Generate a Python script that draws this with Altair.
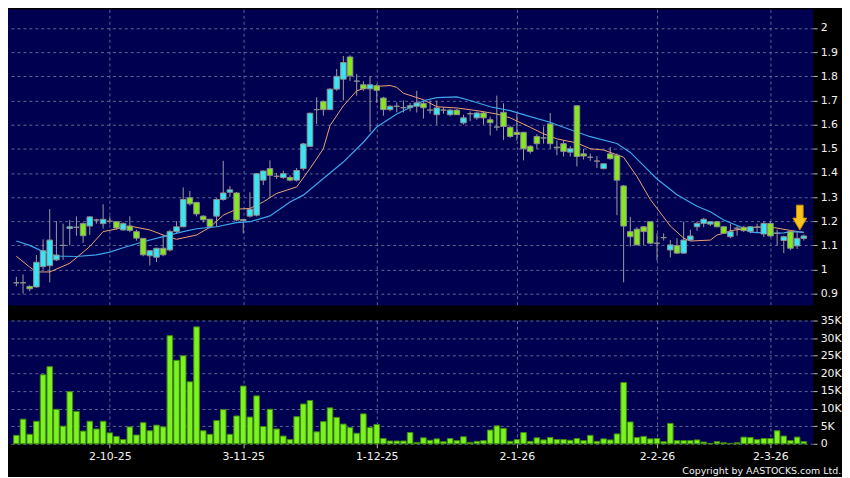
import altair as alt
import pandas as pd

# ---- daily candles (index 0 = first trading day shown) ----
opens = [0.945,0.945,0.93,0.928,1.012,1.016,1.04,1.1,1.17,1.175,
         1.19,1.18,1.205,1.19,1.2,1.198,1.164,1.18,1.157,1.129,
         1.057,1.051,1.088,1.081,1.157,1.177,1.297,1.278,1.221,1.208,
         1.221,1.29,1.32,1.317,1.207,1.221,1.225,1.37,1.418,1.386,
         1.381,1.381,1.37,1.418,1.51,1.662,1.696,1.662,1.747,1.788,
         1.88,1.78,1.765,1.748,1.761,1.71,1.662,1.676,1.67,1.67,
         1.676,1.688,1.66,1.641,1.66,1.641,1.66,1.607,1.645,1.628,
         1.648,1.62,1.59,1.651,1.589,1.568,1.568,1.51,1.551,1.545,
         1.603,1.507,1.521,1.486,1.678,1.479,1.465,1.449,1.418,1.479,
         1.473,1.346,1.157,1.167,1.177,1.198,1.109,1.132,1.081,1.099,
         1.068,1.122,1.177,1.191,1.188,1.198,1.177,1.136,1.171,1.175,
         1.157,1.175,1.147,1.191,1.15,1.12,1.157,1.098,1.129]
highs = [0.97,0.98,0.935,1.06,1.125,1.25,1.2,1.19,1.205,1.22,
         1.195,1.22,1.21,1.27,1.22,1.2,1.195,1.22,1.165,1.13,
         1.08,1.09,1.143,1.165,1.2,1.34,1.325,1.28,1.225,1.21,
         1.295,1.45,1.345,1.32,1.21,1.32,1.4,1.41,1.452,1.4,
         1.41,1.39,1.42,1.525,1.65,1.713,1.7,1.75,1.83,1.884,
         1.887,1.81,1.78,1.8,1.768,1.715,1.68,1.692,1.7,1.69,
         1.74,1.697,1.7,1.699,1.672,1.665,1.665,1.641,1.655,1.655,
         1.655,1.633,1.72,1.688,1.595,1.644,1.57,1.515,1.56,1.592,
         1.648,1.534,1.534,1.51,1.68,1.5,1.48,1.47,1.438,1.507,
         1.48,1.35,1.218,1.175,1.18,1.2,1.15,1.15,1.122,1.13,
         1.198,1.165,1.198,1.214,1.2,1.2,1.18,1.19,1.18,1.18,
         1.18,1.19,1.2,1.2,1.165,1.14,1.16,1.16,1.145]
lows = [0.93,0.9,0.91,0.925,1.0,0.947,1.035,1.04,1.1,1.14,
        1.11,1.143,1.19,1.17,1.19,1.165,1.16,1.155,1.12,1.055,
        1.017,1.031,1.055,1.075,1.15,1.175,1.265,1.22,1.195,1.17,
        1.177,1.285,1.3,1.2,1.15,1.215,1.22,1.35,1.3,1.375,
        1.375,1.365,1.365,1.41,1.508,1.603,1.637,1.66,1.74,1.7,
        1.781,1.72,1.74,1.57,1.69,1.637,1.655,1.651,1.65,1.655,
        1.65,1.625,1.645,1.6,1.645,1.635,1.641,1.6,1.615,1.62,
        1.6,1.555,1.575,1.537,1.545,1.534,1.452,1.48,1.5,1.521,
        1.5,1.473,1.468,1.468,1.427,1.455,1.45,1.42,1.415,1.455,
        1.225,0.947,1.095,1.1,1.1,1.105,1.037,1.12,1.05,1.065,
        1.065,1.12,1.16,1.175,1.18,1.175,1.148,1.13,1.14,1.155,
        1.15,1.15,1.135,1.135,1.1,1.068,1.08,1.085,1.12]
closes = [0.945,0.945,0.92,1.03,1.078,1.122,1.06,1.1,1.177,1.175,
          1.14,1.218,1.205,1.208,1.2,1.172,1.19,1.162,1.13,1.061,
          1.078,1.088,1.061,1.157,1.177,1.29,1.272,1.23,1.206,1.178,
          1.29,1.317,1.33,1.205,1.203,1.25,1.397,1.408,1.39,1.386,
          1.397,1.37,1.41,1.52,1.647,1.662,1.662,1.747,1.8,1.857,
          1.802,1.78,1.748,1.765,1.742,1.662,1.676,1.676,1.67,1.678,
          1.69,1.67,1.66,1.669,1.66,1.66,1.641,1.628,1.645,1.648,
          1.628,1.608,1.59,1.592,1.551,1.559,1.5,1.489,1.521,1.545,
          1.521,1.504,1.489,1.5,1.468,1.47,1.465,1.449,1.438,1.459,
          1.37,1.18,1.136,1.102,1.157,1.109,1.109,1.132,1.102,1.068,
          1.122,1.139,1.191,1.208,1.198,1.177,1.15,1.157,1.171,1.161,
          1.177,1.175,1.191,1.139,1.15,1.136,1.088,1.129,1.139]
volumes = [2400,7000,2700,6400,19600,21900,9800,5000,14800,9200,
           3600,6400,4200,6400,3100,2100,1200,4800,2500,6000,
           3700,5300,4800,30700,23700,25000,17600,33200,3700,2700,
           6600,9700,2700,7900,16400,7600,13600,4900,9800,4200,
           2200,1200,7700,11300,12300,3400,6300,10200,7500,5600,
           4600,3000,8500,4600,5500,1500,800,800,800,3200,
           400,1700,1000,1400,600,1500,900,2000,400,700,
           900,3900,5100,4400,700,1200,3200,700,1700,1100,
           1800,1200,1200,1000,1500,900,2400,700,1400,1100,
           2800,17400,6200,1800,2100,1400,1500,600,5800,900,
           900,900,1100,500,50,600,300,100,300,1900,
           1800,1200,1500,1500,3700,2200,900,1900,600]

# ---- moving averages (day index, value) ----
ma_short_idx = [0,2,3,5,8,11,13,15,17,20,22,24,27,29,31,33,35,37,39,41,42,44,46,47,49,51,53,54,56,57,58,60,61,63,66,69,72,74,77,79,81,84,86,88,90,91,93,95,98,100,101,104,105,106,107,109,111,113,116,118]
ma_short_val = [1.055,1.01,0.99,0.99,1.026,1.095,1.157,1.168,1.18,1.164,1.143,1.125,1.143,1.175,1.225,1.25,1.253,1.28,1.315,1.333,1.342,1.418,1.5,1.596,1.678,1.74,1.758,1.758,1.762,1.754,1.73,1.712,1.703,1.674,1.669,1.658,1.644,1.628,1.589,1.562,1.541,1.524,1.5,1.495,1.475,1.465,1.385,1.29,1.18,1.13,1.118,1.122,1.143,1.15,1.161,1.168,1.176,1.176,1.162,1.153]
ma_long_idx = [0,2,4,6,9,12,14,16,19,22,25,27,30,33,35,38,40,41,43,46,49,52,54,57,59,61,63,66,68,71,74,77,80,82,86,90,92,94,96,99,102,104,106,109,110,113,115,116,118]
ma_long_val = [1.118,1.1,1.074,1.056,1.054,1.061,1.072,1.09,1.115,1.136,1.157,1.169,1.177,1.194,1.198,1.222,1.26,1.28,1.308,1.377,1.445,1.527,1.59,1.644,1.671,1.699,1.712,1.715,1.70,1.674,1.658,1.633,1.61,1.589,1.55,1.522,1.485,1.43,1.375,1.31,1.262,1.239,1.205,1.171,1.155,1.15,1.152,1.157,1.155]

tick_idx = [14, 34, 54, 75, 96, 113]
tick_labels = ["2-10-25", "3-11-25", "1-12-25", "2-1-26", "2-2-26", "2-3-26"]
price_ticks = [0.9, 1, 1.1, 1.2, 1.3, 1.4, 1.5, 1.6, 1.7, 1.8, 1.9, 2]
vol_ticks = [0, 5000, 10000, 15000, 20000, 25000, 30000, 35000]
arrow_idx = [117.4]
arrow_price = [1.215]

n = len(closes)
df = pd.DataFrame({"i": list(range(n)), "open": opens, "high": highs,
                   "low": lows, "close": closes, "vol": volumes})
df["dir"] = ["up" if c > o else ("down" if c < o else "flat") for o, c in zip(opens, closes)]
ma_s = pd.DataFrame({"i": ma_short_idx, "v": ma_short_val})
ma_l = pd.DataFrame({"i": ma_long_idx, "v": ma_long_val})
arrow = pd.DataFrame({"i": arrow_idx, "p": arrow_price})

W = 810
FONT = "DejaVu Sans"
GRID = "#5f6894"

xscale = alt.Scale(domain=[-0.51, 118.66], nice=False, zero=False)
x_price_axis = alt.Axis(values=tick_idx, labels=False, ticks=False, domain=False,
                        grid=True, gridColor=GRID, gridDash=[3, 3], title=None)
label_expr = " : ".join(f"datum.value == {t} ? '{l}'" for t, l in zip(tick_idx, tick_labels)) + " : ''"
x_vol_axis = alt.Axis(values=tick_idx, labelExpr=label_expr, grid=True, gridColor=GRID,
                      gridDash=[3, 3], domain=False, ticks=True, tickSize=4, tickColor="#bbbbbb",
                      labelColor="#f2f2f2", labelFont=FONT, labelFontSize=11, labelPadding=3,
                      title=None)

yscale = alt.Scale(domain=[0.8506, 2.077], nice=False, zero=False)
y_price_axis = alt.Axis(orient="right", values=price_ticks, format="~g", grid=True,
                        gridColor=GRID, gridDash=[3, 3], domain=False, tickSize=4,
                        tickColor="#bbbbbb", labelColor="#f2f2f2", labelFont=FONT,
                        labelFontSize=11, labelPadding=3, title=None)

X = alt.X("i:Q", scale=xscale, axis=x_price_axis)

wicks = alt.Chart(df).mark_rule(color="#9c9c9c", strokeWidth=1).encode(
    x=X, y=alt.Y("low:Q", scale=yscale, axis=y_price_axis), y2="high:Q")

line_s = alt.Chart(ma_s).mark_line(color="#f0a076", strokeWidth=1).encode(
    x=X, y=alt.Y("v:Q", scale=yscale, axis=y_price_axis))
line_l = alt.Chart(ma_l).mark_line(color="#3ea6ec", strokeWidth=1.2).encode(
    x=X, y=alt.Y("v:Q", scale=yscale, axis=y_price_axis))

bodies = alt.Chart(df).mark_bar(size=5.6, stroke="#8e8e8e", strokeWidth=1).encode(
    x=X, y=alt.Y("open:Q", scale=yscale, axis=y_price_axis), y2="close:Q",
    color=alt.Color("dir:N", scale=alt.Scale(domain=["up", "down", "flat"],
                    range=["#36e6f4", "#86e620", "#9a9a9a"]), legend=None))

arrow_mark = alt.Chart(arrow).mark_point(
    shape="M-0.27,-1 L0.27,-1 L0.27,0.04 L0.56,0.04 L0,1 L-0.56,0.04 L-0.27,0.04 Z",
    size=625, filled=True, fill="#f7c41c", stroke="#d08a00", strokeWidth=1, opacity=1
).encode(x=X, y=alt.Y("p:Q", scale=yscale, axis=y_price_axis))

price = alt.layer(wicks, line_s, line_l, bodies, arrow_mark).properties(width=W, height=298)

vol_axis = alt.Axis(orient="right", values=vol_ticks,
                    labelExpr="datum.value == 0 ? '0' : (datum.value / 1000) + 'K'",
                    grid=True, gridColor=GRID, gridDash=[3, 3], domain=False, tickSize=4,
                    tickColor="#bbbbbb", labelColor="#f2f2f2", labelFont=FONT,
                    labelFontSize=11, labelPadding=3, title=None)
volume = alt.Chart(df).mark_bar(size=5.6, color="#7cf21e", stroke="#3f8a12", strokeWidth=1).encode(
    x=alt.X("i:Q", scale=xscale, axis=x_vol_axis),
    y=alt.Y("vol:Q", scale=alt.Scale(domain=[0, 35000], nice=False), axis=vol_axis)
).properties(width=W, height=124)

chart = alt.vconcat(price, volume, spacing=9).properties(
    title=alt.TitleParams("Copyright by AASTOCKS.com Ltd.", orient="bottom", anchor="end",
                          font=FONT, fontSize=9.5, fontWeight="normal", color="#f2f2f2", offset=4),
    padding={"left": 0, "top": 0, "right": 0, "bottom": 0},
    background="#000000"
).configure_view(fill="#000050", strokeWidth=0)

chart.save("out.html", embed_options={"renderer": "svg", "actions": False})
